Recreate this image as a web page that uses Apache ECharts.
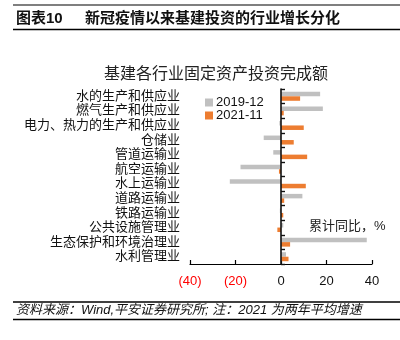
<!DOCTYPE html>
<html><head><meta charset="utf-8">
<script src="https://cdn.jsdelivr.net/npm/echarts@6/dist/echarts.min.js"></script>
<style>html,body{margin:0;padding:0;background:#fff}#c{width:400px;height:340px}</style>
</head><body><div id="c"></div>
<script>
var categories = ['水的生产和供应业','燃气生产和供应业','电力、热力的生产和供应业','仓储业','管道运输业','航空运输业','水上运输业','道路运输业','铁路运输业','公共设施管理业','生态保护和环境治理业','水利管理业'];
var v2019 = [17.2, 18.4, -0.7, -7.6, -3.4, -17.8, -22.5, 9.4, -0.5, 1.0, 37.7, 2.2];
var v2021 = [8.4, 1.2, 10.0, 5.6, 11.5, -0.9, 10.9, 1.4, 1.0, -1.6, 4.0, 3.3];
var seriesNames = ['2019-12', '2021-11'];
var xTicks = [-40, -20, 0, 20, 40];

var FONT = '"Liberation Sans","Noto Sans CJK SC",sans-serif';
var chart = echarts.init(document.getElementById('c'));
chart.setOption({
  animation: false,
  backgroundColor: '#fff',
  textStyle: {fontFamily: FONT},
  title: {
    text: '基建各行业固定资产投资完成额',
    left: 211, top: 62, textAlign: 'center',
    textStyle: {fontSize: 16, fontWeight: 'normal', color: '#222', fontFamily: FONT}
  },
  legend: {
    data: seriesNames,
    orient: 'vertical',
    left: 200, top: 91,
    itemWidth: 8, itemHeight: 8, itemGap: 0,
    icon: 'rect',
    textStyle: {fontSize: 13, color: '#111', lineHeight: 12, padding: [0,0,0,-2], fontFamily: FONT}
  },
  grid: {left: 190, right: 28, top: 89, bottom: 76},
  xAxis: {
    type: 'value', min: xTicks[0], max: xTicks[xTicks.length-1], interval: 20,
    axisLine: {show: true, lineStyle: {color: '#000', width: 1.2}},
    axisTick: {show: true, inside: true, length: 4, lineStyle: {color: '#000', width: 1.2}},
    splitLine: {show: false},
    axisLabel: {
      fontSize: 13, margin: 11, fontFamily: FONT,
      formatter: function(v){ return v < 0 ? '(' + (-v) + ')' : String(v); },
      color: function(v){ return Number(v) < 0 ? '#ff0000' : '#111'; }
    }
  },
  yAxis: {
    type: 'category', data: categories, inverse: true, z: 5,
    axisLine: {show: true, lineStyle: {color: '#111', width: 1.6}},
    axisTick: {show: true, inside: true, length: 4, interval: 0, lineStyle: {color: '#111', width: 1.4}},
    splitLine: {show: false},
    axisLabel: {fontSize: 13, color: '#111', margin: 10, interval: 0, fontFamily: FONT}
  },
  series: [{
    name: seriesNames[0], type: 'bar', data: v2019,
    barWidth: 4.5, barGap: '0%',
    itemStyle: {color: '#C0C0C0'}
  }, {
    name: seriesNames[1], type: 'bar', data: v2021,
    barWidth: 4.5, barGap: '0%',
    itemStyle: {color: '#ED7D31'}
  }],
  graphic: [
    {type: 'line', shape: {x1: 13, y1: 5, x2: 400, y2: 5}, style: {stroke: '#000', lineWidth: 1.2}},
    {type: 'text', left: 16, top: 11, style: {text: '图表10', font: 'bold 15px ' + FONT, fill: '#111'}},
    {type: 'text', left: 85, top: 11, style: {text: '新冠疫情以来基建投资的行业增长分化', font: 'bold 15px ' + FONT, fill: '#111'}},
    {type: 'line', shape: {x1: 13, y1: 29.5, x2: 400, y2: 29.5}, style: {stroke: '#000', lineWidth: 1.7}},
    {type: 'text', left: 309, top: 220, style: {text: '累计同比，%', font: '13px ' + FONT, fill: '#222'}},
    {type: 'line', shape: {x1: 13, y1: 302, x2: 400, y2: 302}, style: {stroke: '#000', lineWidth: 1.5}},
    {type: 'text', left: 16, top: 304, style: {text: '资料来源：Wind,平安证券研究所; 注：2021 为两年平均增速', font: 'italic 13px ' + FONT, fill: '#111'}},
    {type: 'line', shape: {x1: 13, y1: 319.5, x2: 400, y2: 319.5}, style: {stroke: '#000', lineWidth: 1.5}}
  ]
});
</script></body></html>
